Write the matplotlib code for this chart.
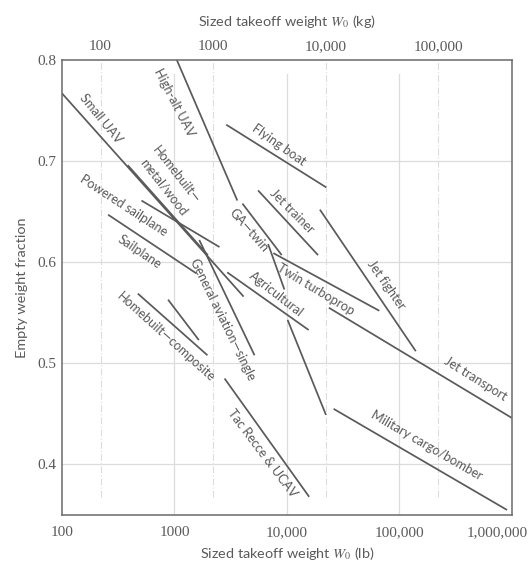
import matplotlib
matplotlib.use("Agg")
import matplotlib.pyplot as plt
import matplotlib.transforms as mtransforms
import numpy as np

plt.rcParams.update({
    "font.family": ["Lato", "DejaVu Sans"],
    "mathtext.fontset": "stix",
})

# trend segments: takeoff weight (lb) and empty weight fraction at both ends
SEG_X0 = [100, 1050, 384, 509, 257, 1662, 472, 877, 2790, 4023, 6800, 2944,
          7570, 2891, 5540, 19650, 23600, 26000, 10140]
SEG_X1 = [4121, 3622, 1982, 2515, 1563, 5152, 1965, 1648, 15770, 8995, 9500, 15600,
          66300, 22370, 18930, 140000, 1000000, 906000, 22240]
SEG_Y0 = [0.767, 0.800, 0.696, 0.661, 0.647, 0.622, 0.569, 0.563, 0.485, 0.658, 0.618, 0.590,
          0.609, 0.736, 0.671, 0.652, 0.555, 0.455, 0.543]
SEG_Y1 = [0.566, 0.661, 0.607, 0.615, 0.589, 0.508, 0.508, 0.523, 0.368, 0.607, 0.573, 0.533,
          0.552, 0.674, 0.607, 0.512, 0.446, 0.355, 0.449]

LABELS = ["Small UAV", "High-alt UAV", "Homebuilt\u2014", "metal/wood", "Powered sailplane",
          "Sailplane", "General aviation\u2014single", "Homebuilt\u2014composite",
          "Tac Recce & UCAV", "GA\u2014twin", "Agricultural", "Twin turboprop",
          "Flying boat", "Jet trainer", "Jet fighter", "Jet transport",
          "Military cargo/bomber"]
LABEL_X = [214, 1072, 1006, 768, 361, 499, 2878, 855, 6280, 4805, 7776, 18400,
           8277, 10715, 73650, 461000, 170800]
LABEL_Y = [0.740, 0.759, 0.686, 0.673, 0.657, 0.611, 0.545, 0.527, 0.413, 0.633, 0.566, 0.575,
           0.714, 0.648, 0.576, 0.482, 0.416]
LABEL_ROT = [-51, -63, -52, -52, -33, -34, -64, -42, -53, -49, -38, -31,
             -35, -45, -55, -32, -30]
# nudge (points) along each label's own "up" direction, away from its line
LABEL_NUDGE = [2, -2.5, 1, 2, -1, -1, -2.5, -1, -2, -2, 2, -2,
               2, 2, 2, 2, 2]

LB_TICKS = [100, 1000, 10000, 100000, 1000000]
LB_TICKLABELS = ["100", "1000", "10,000", "100,000", "1,000,000"]
KG_TICKS = [100, 1000, 10000, 100000]
KG_TICKLABELS = ["100", "1000", "10,000", "100,000"]
Y_TICKS = [0.4, 0.5, 0.6, 0.7, 0.8]
LB_PER_KG = 2.20462

INK = "#5a5a5a"
GRID = "#dcdcdc"
SERIF = ["Liberation Serif", "DejaVu Serif"]
TICK_FS = 11
AXIS_FS = 10.4

fig = plt.figure(figsize=(5.28, 5.67), dpi=100)
ax = fig.add_axes([0.1174, 0.0917, 0.852, 0.8025])
ax.set_xscale("log")
ax.set_xlim(100, 1000000)
ax.set_ylim(0.35, 0.8)

# solid grid on lb decades, dash-dot grid on kg decades
for yv in Y_TICKS[:-1]:
    ax.axhline(yv, color=GRID, linewidth=0.9, zorder=0)
for xv in LB_TICKS[1:-1]:
    ax.axvline(xv, ymax=0.97, color=GRID, linewidth=0.9, zorder=0)
for kv in KG_TICKS:
    ax.axvline(kv * LB_PER_KG, ymin=0.04, color=GRID, linewidth=0.8,
               linestyle=(0, (6, 2, 1, 2)), zorder=0)

for x0, x1, y0, y1 in zip(SEG_X0, SEG_X1, SEG_Y0, SEG_Y1):
    ax.plot([x0, x1], [y0, y1], color=INK, linewidth=1.25, solid_capstyle="butt", zorder=2)

for txt, lx, ly, rot, nudge in zip(LABELS, LABEL_X, LABEL_Y, LABEL_ROT, LABEL_NUDGE):
    th = np.radians(rot)
    ax.annotate(txt, (lx, ly), xytext=(-nudge * np.sin(th), nudge * np.cos(th)),
                textcoords="offset points", rotation=rot, rotation_mode="anchor",
                ha="center", va="center", fontsize=9.2, color=INK, zorder=3)

ax.set_xticks(LB_TICKS)
ax.set_xticklabels(LB_TICKLABELS, fontfamily=SERIF, fontsize=TICK_FS, color=INK)
ax.xaxis.set_minor_locator(matplotlib.ticker.NullLocator())
ax.set_yticks(Y_TICKS)
ax.set_yticklabels([f"{v:.1f}" for v in Y_TICKS], fontfamily=SERIF, fontsize=TICK_FS, color=INK)
ax.tick_params(axis="x", length=0, pad=8)
ax.tick_params(axis="y", length=0, pad=4)
for sp in ax.spines.values():
    sp.set_color("#6a6a6a")
    sp.set_linewidth(1.1)

# keep the last lb label inside the canvas
last = ax.get_xticklabels()[-1]
last.set_transform(last.get_transform()
                   + mtransforms.ScaledTranslation(-15 / 100, 0, fig.dpi_scale_trans))

ax.set_xlabel(r"Sized takeoff weight $W_0$ (lb)", fontsize=AXIS_FS, color=INK, labelpad=4)
ax.set_ylabel("Empty weight fraction", fontsize=AXIS_FS, color=INK, labelpad=7)

top = ax.secondary_xaxis("top", functions=(lambda lb: lb / LB_PER_KG, lambda kg: kg * LB_PER_KG))
top.set_xticks(KG_TICKS)
top.set_xticklabels(KG_TICKLABELS, fontfamily=SERIF, fontsize=TICK_FS, color=INK)
top.xaxis.set_minor_locator(matplotlib.ticker.NullLocator())
top.tick_params(length=0, pad=5)
top.spines["top"].set_visible(False)
top.set_xlabel(r"Sized takeoff weight $W_0$ (kg)", fontsize=AXIS_FS, color=INK, labelpad=10)

fig.savefig("out.png", dpi=100)
